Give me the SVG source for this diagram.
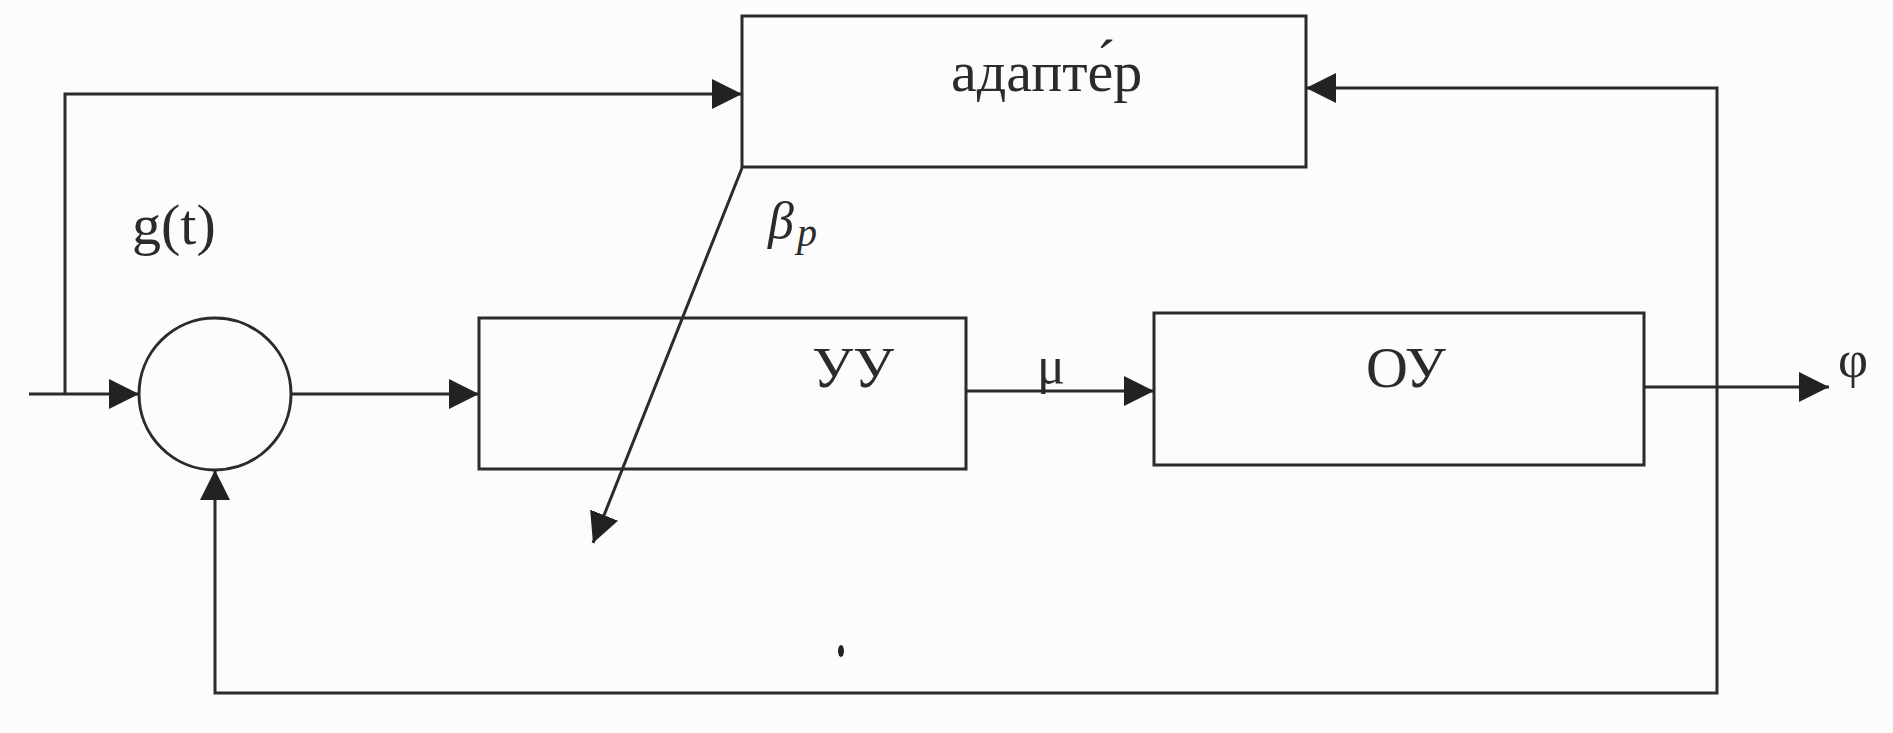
<svg xmlns="http://www.w3.org/2000/svg" width="1893" height="733" viewBox="0 0 1893 733">
<style>
.box{fill:none;stroke:#2b2b2b;stroke-width:3}
.ln{fill:none;stroke:#2b2b2b;stroke-width:3}
.t{font-family:"Liberation Serif","Times New Roman",serif;fill:#2b2b2b}
</style>
<defs>
<marker id="ah" viewBox="0 0 30 30" refX="30" refY="15" markerWidth="30" markerHeight="30" markerUnits="userSpaceOnUse" orient="auto">
<path d="M0,0 L30,15 L0,30 z" fill="#222"/>
</marker>
</defs>
<rect x="0" y="0" width="1893" height="733" fill="#fcfcfc"/>
<g id="connectors">
<path class="ln" d="M29,394 H139" marker-end="url(#ah)"/>
<path class="ln" d="M65,394 V94 H742" marker-end="url(#ah)"/>
<path class="ln" d="M291,394 H479" marker-end="url(#ah)"/>
<path class="ln" d="M966,391 H1154" marker-end="url(#ah)"/>
<path class="ln" d="M1644,387 H1829" marker-end="url(#ah)"/>
<path class="ln" d="M1717,387 V88 H1306" marker-end="url(#ah)"/>
<path class="ln" d="M1717,387 V693 H215 V470" marker-end="url(#ah)"/>
<path class="ln" d="M742,168 L593,543" marker-end="url(#ah)"/>
</g>
<g id="adapter">
<rect class="box" x="742" y="16" width="564" height="151"/>
<text class="t" x="951" y="91" font-size="58">адапте́р</text>
</g>
<g id="sum">
<circle class="box" cx="215" cy="394" r="76"/>
</g>
<g id="uu">
<rect class="box" x="479" y="318" width="487" height="151"/>
<text class="t" x="812" y="387" font-size="58">УУ</text>
</g>
<g id="ou">
<rect class="box" x="1154" y="313" width="490" height="152"/>
<text class="t" x="1366" y="387" font-size="58">ОУ</text>
</g>
<g id="labels">
<text class="t" x="132" y="244" font-size="58">g(t)</text>
<text class="t" x="768" y="238" font-size="52" font-style="italic">β</text>
<text class="t" x="797" y="246" font-size="40" font-style="italic">p</text>
<text class="t" x="1037" y="383" font-size="52">μ</text>
<text class="t" x="1838" y="377" font-size="52">φ</text>
</g>
<ellipse cx="841" cy="651" rx="3" ry="6" fill="#222"/>
</svg>
